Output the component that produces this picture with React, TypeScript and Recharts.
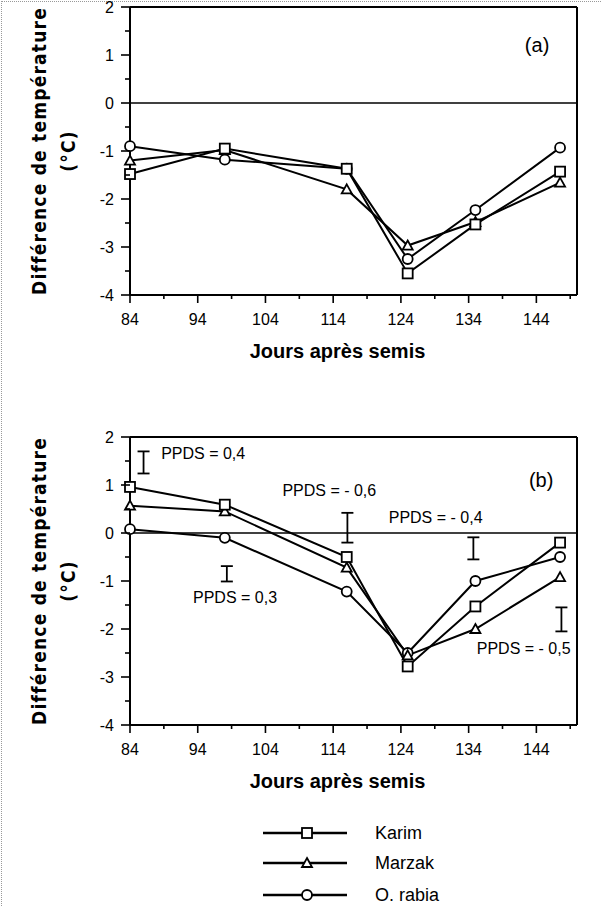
import React from 'react';
import {
  ComposedChart,
  Line,
  Scatter,
  ErrorBar,
  XAxis,
  YAxis,
  ReferenceLine,
} from 'recharts';

// jours après semis
const days = [84, 98, 116, 125, 135, 147.5];

// (a)
const karimA = [-1.48, -0.95, -1.37, -3.55, -2.53, -1.43];
const marzakA = [-1.2, -0.98, -1.8, -2.97, -2.48, -1.66];
const rabiaA = [-0.9, -1.18, -1.37, -3.25, -2.23, -0.93];

// (b)
const karimB = [0.96, 0.59, -0.5, -2.78, -1.53, -0.2];
const marzakB = [0.57, 0.45, -0.72, -2.55, -2.0, -0.92];
const rabiaB = [0.08, -0.1, -1.22, -2.5, -1.0, -0.5];

// PPDS bars in (b): centre and half-length
const ppdsDays = [86, 98.3, 116.1, 134.7, 147.7];
const ppdsMid = [1.47, -0.85, 0.11, -0.32, -1.8];
const ppdsHalf = [0.23, 0.16, 0.31, 0.23, 0.25];

// PPDS texts in (b)
const noteDays = [88.6, 106.5, 122.2, 93.3, 135.2];
const noteVals = [1.66, 0.89, 0.33, -1.34, -2.41];
const noteTexts = ['PPDS = 0,4', 'PPDS = - 0,6', 'PPDS = - 0,4', 'PPDS = 0,3', 'PPDS = - 0,5'];

const xTicks = [84, 89, 94, 99, 104, 109, 114, 119, 124, 129, 134, 139, 144, 149];
const yTicks = [-4, -3.5, -3, -2.5, -2, -1.5, -1, -0.5, 0, 0.5, 1, 1.5, 2];

const seriesNames = ['Karim', 'Marzak', 'O. rabia'];
const seriesShapes = ['square', 'triangle', 'circle'];

const FONT = '"Liberation Sans", Arial, Helvetica, sans-serif';
const TITLE_FONT = '"DejaVu Sans Condensed", "DejaVu Sans", sans-serif';
const X_TICK_SIZE = 8;
const X_TICK_MARGIN = 4;
const Y_TICK_SIZE = 9;
const Y_TICK_MARGIN = 6;

const buildRows = (k: number[], m: number[], r: number[]) =>
  days.map((d, i) => ({ day: d, karim: k[i], marzak: m[i], rabia: r[i] }));

const rowsA = buildRows(karimA, marzakA, rabiaA);
const rowsB = buildRows(karimB, marzakB, rabiaB);
const barRows = ppdsDays.map((d, i) => ({ day: d, y: ppdsMid[i], err: ppdsHalf[i] }));
const noteRows = noteDays.map((d, i) => ({ day: d, y: noteVals[i], text: noteTexts[i] }));

const Marker = ({ shape, cx, cy }: { shape: string; cx: number; cy: number }) => {
  if (shape === 'square')
    return <rect x={cx - 5} y={cy - 5} width={10} height={10} fill="#fff" stroke="#000" strokeWidth={1.8} />;
  if (shape === 'triangle')
    return (
      <polygon
        points={`${cx},${cy - 5} ${cx + 5},${cy + 4} ${cx - 5},${cy + 4}`}
        fill="#fff"
        stroke="#000"
        strokeWidth={1.8}
      />
    );
  return <circle cx={cx} cy={cy} r={5} fill="#fff" stroke="#000" strokeWidth={1.8} />;
};

const makeDot = (shape: string) => (props: any) => {
  const { cx, cy, index } = props;
  if (cx == null || cy == null) return <g key={index} />;
  return <Marker key={index} shape={shape} cx={cx} cy={cy} />;
};

const XTick = (props: any) => {
  const { x, y, payload } = props;
  const axisY = y - X_TICK_SIZE - X_TICK_MARGIN;
  const major = (payload.value - 84) % 10 === 0;
  return (
    <g>
      <line x1={x} x2={x} y1={axisY} y2={axisY + (major ? 8 : 4)} stroke="#000" strokeWidth={1.6} />
      {major && (
        <text x={x} y={axisY + 24} textAnchor="middle" dominantBaseline="central" fontSize={16} fill="#000" fontFamily={FONT}>
          {payload.value}
        </text>
      )}
    </g>
  );
};

const YTick = (props: any) => {
  const { x, y, payload } = props;
  const axisX = x + Y_TICK_SIZE + Y_TICK_MARGIN;
  const major = Number.isInteger(payload.value);
  return (
    <g>
      <line x1={axisX - (major ? 9 : 5)} x2={axisX} y1={y} y2={y} stroke="#000" strokeWidth={1.6} />
      {major && (
        <text x={axisX - 16} y={y} textAnchor="end" dominantBaseline="central" fontSize={16} fill="#000" fontFamily={FONT}>
          {payload.value}
        </text>
      )}
    </g>
  );
};

const YTitle = ({ viewBox }: any) => {
  const cy = viewBox.y + viewBox.height / 2;
  const x1 = viewBox.x + 39;
  const x2 = viewBox.x + 68;
  const style = { fontSize: 19, fontWeight: 'bold' as const, fontFamily: TITLE_FONT, fill: '#000' };
  return (
    <g>
      <text transform={`translate(${x1},${cy}) rotate(-90)`} textAnchor="middle" dominantBaseline="central" letterSpacing={1.2} {...style}>
        Différence de température
      </text>
      <text transform={`translate(${x2},${cy}) rotate(-90)`} textAnchor="middle" dominantBaseline="central" letterSpacing={1.2} {...style}>
        (°C)
      </text>
    </g>
  );
};

const XTitle = ({ viewBox }: any) => (
  <text
    x={viewBox.x + viewBox.width / 2 - 16}
    y={viewBox.y + 56}
    textAnchor="middle"
    dominantBaseline="central"
    fontSize={20}
    fontWeight="bold"
    fontFamily={FONT}
    fill="#000"
  >
    Jours après semis
  </text>
);

const NoteShape = (props: any) => (
  <text x={props.cx} y={props.cy} textAnchor="start" dominantBaseline="central" fontSize={16} fontFamily={FONT} fill="#000">
    {props.payload.text}
  </text>
);

const Panel = ({ rows, tag, tagDay, tagVal, withPpds }: any) => (
  <ComposedChart width={602} height={367} data={rows} margin={{ top: 7, right: 25, bottom: 12, left: 0 }}>
    <XAxis
      dataKey="day"
      type="number"
      domain={[84, 150]}
      ticks={xTicks}
      interval={0}
      height={60}
      tickSize={X_TICK_SIZE}
      tickMargin={X_TICK_MARGIN}
      tickLine={false}
      tick={<XTick />}
      axisLine={{ stroke: '#000', strokeWidth: 2 }}
      label={<XTitle />}
    />
    <YAxis
      type="number"
      domain={[-4, 2]}
      ticks={yTicks}
      interval={0}
      width={130}
      tickSize={Y_TICK_SIZE}
      tickMargin={Y_TICK_MARGIN}
      tickLine={false}
      tick={<YTick />}
      axisLine={{ stroke: '#000', strokeWidth: 2 }}
      label={<YTitle />}
    />
    <ReferenceLine y={2} stroke="#000" strokeWidth={2} />
    <ReferenceLine x={150} stroke="#000" strokeWidth={2} />
    <ReferenceLine y={0} stroke="#000" strokeWidth={1.6} />
    <Scatter
      data={[{ day: tagDay, y: tagVal, text: tag }]}
      dataKey="y"
      isAnimationActive={false}
      shape={(p: any) => (
        <text x={p.cx} y={p.cy} textAnchor="start" dominantBaseline="central" fontSize={20} fontFamily={FONT} fill="#000">
          {p.payload.text}
        </text>
      )}
    />
    {withPpds && (
      <Scatter data={barRows} dataKey="y" isAnimationActive={false} shape={() => <g />}>
        <ErrorBar dataKey="err" direction="y" width={6} stroke="#000" strokeWidth={1.8} isAnimationActive={false} />
      </Scatter>
    )}
    {withPpds && <Scatter data={noteRows} dataKey="y" isAnimationActive={false} shape={<NoteShape />} />}
    <Line dataKey="rabia" stroke="#000" strokeWidth={2} dot={makeDot('circle')} isAnimationActive={false} />
    <Line dataKey="marzak" stroke="#000" strokeWidth={2} dot={makeDot('triangle')} isAnimationActive={false} />
    <Line dataKey="karim" stroke="#000" strokeWidth={2} dot={makeDot('square')} isAnimationActive={false} />
  </ComposedChart>
);

const LegendBox = () => (
  <svg width={602} height={92} style={{ position: 'absolute', left: 0, top: 815 }}>
    {seriesNames.map((name, i) => {
      const y = [18, 48, 80][i];
      return (
        <g key={name}>
          <line x1={263} x2={347} y1={y} y2={y} stroke="#000" strokeWidth={2.5} />
          <Marker shape={seriesShapes[i]} cx={307} cy={y} />
          <text x={375} y={y} dominantBaseline="central" fontSize={18} fontFamily={FONT} fill="#000">
            {name}
          </text>
        </g>
      );
    })}
  </svg>
);

export default function App() {
  return (
    <div
      style={{
        position: 'absolute',
        left: 0,
        top: 0,
        width: 602,
        height: 907,
        background: '#fff',
        fontFamily: FONT,
        overflow: 'hidden',
      }}
    >
      <div style={{ position: 'absolute', left: 1, top: 1, width: 601, height: 906, borderLeft: '1px dotted #999', borderTop: '1px dotted #999' }} />
      <div style={{ position: 'absolute', left: 0, top: 0 }}>
        <Panel rows={rowsA} tag="(a)" tagDay={142.3} tagVal={1.21} withPpds={false} />
      </div>
      <div style={{ position: 'absolute', left: 0, top: 430 }}>
        <Panel rows={rowsB} tag="(b)" tagDay={142.9} tagVal={1.1} withPpds={true} />
      </div>
      <LegendBox />
    </div>
  );
}
